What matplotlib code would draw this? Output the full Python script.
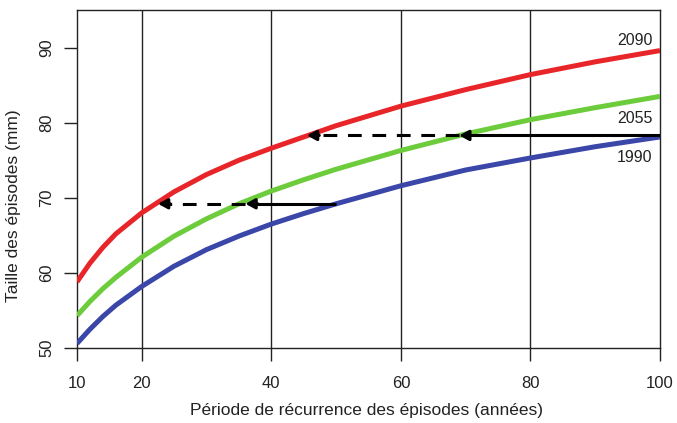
import matplotlib
matplotlib.use("Agg")
import matplotlib.pyplot as plt

plt.rcParams['font.family'] = ['Liberation Sans', 'DejaVu Sans']

# Return period (years)
periods = [10, 12, 14, 16, 20, 25, 30, 35, 40, 45, 50, 60, 70, 80, 90, 100]
# Episode size (mm) for each horizon
size_2090 = [58.8, 61.3, 63.4, 65.2, 68.0, 70.8, 73.1, 75.0, 76.6, 78.1, 79.6, 82.2, 84.4, 86.4, 88.1, 89.6]
size_2055 = [54.3, 56.2, 57.9, 59.4, 62.1, 64.9, 67.2, 69.2, 70.9, 72.4, 73.8, 76.3, 78.5, 80.4, 82.0, 83.5]
size_1990 = [50.6, 52.5, 54.2, 55.7, 58.2, 60.9, 63.1, 64.9, 66.5, 67.9, 69.2, 71.6, 73.7, 75.3, 76.8, 78.1]

series_labels = ["2090", "2055", "1990"]
label_y = [90.9, 80.5, 75.3]
colors = ["#e8262a", "#6ccc3c", "#3a46a8"]

x_ticks = [10, 20, 40, 60, 80, 100]
y_ticks = [50, 60, 70, 80, 90]
grid_x = [20, 40, 60, 80]

# Arrows: (start_x, end_x, y, style)
arrow_segments = [
    (50.0, 36.0, 69.2, "solid"),
    (36.0, 22.5, 69.2, "dashed"),
    (100.0, 69.0, 78.3, "solid"),
    (69.0, 45.5, 78.3, "dashed"),
]

fig = plt.figure(figsize=(6.77, 4.23), dpi=100)
ax = fig.add_axes([77/677, 1 - 348/423, (660-77)/677, (348-10)/423])

for xv in grid_x:
    ax.axvline(xv, color="#222222", lw=1.0, zorder=1)

for ys, c in zip([size_2090, size_2055, size_1990], colors):
    ax.plot(periods, ys, color=c, lw=3.6, solid_capstyle="butt",
            solid_joinstyle="round", zorder=3)

for x0, x1, yv, st in arrow_segments:
    head_len = 1.9
    ax.plot([x0, x1 + head_len * 0.6], [yv, yv], color="black", lw=2.2,
            linestyle=(0, (4.5, 3.5)) if st == "dashed" else "-",
            solid_capstyle="butt", dash_capstyle="butt", zorder=4)
    ax.annotate("", xy=(x1, yv), xytext=(x1 + head_len, yv),
                arrowprops=dict(arrowstyle="-|>,head_length=0.55,head_width=0.3",
                                color="black", lw=2.2, shrinkA=0, shrinkB=0),
                zorder=5)

for lab, yv in zip(series_labels, label_y):
    ax.text(98.8, yv, lab, ha="right", va="center", fontsize=11.5, color="#222222")

ax.set_xlim(10, 100)
ax.set_ylim(50, 95)
ax.set_xticks(x_ticks)
ax.set_xticklabels([str(v) for v in x_ticks])
ax.set_yticks(y_ticks)
ax.set_yticklabels([str(v) for v in y_ticks], rotation=90, va="center")

for s in ax.spines.values():
    s.set_color("#222222")
    s.set_linewidth(1.0)

ax.tick_params(axis="x", direction="out", length=9.5, width=1.0, pad=11, labelsize=12, colors="#222222")
ax.tick_params(axis="y", direction="out", length=9.5, width=1.0, pad=7, labelsize=12, colors="#222222")

fig.text(367/677, 1 - 410/423, "Période de récurrence des épisodes (années)",
         ha="center", va="center", fontsize=12.5, color="#222222")
fig.text(14/677, 1 - 206/423, "Taille des épisodes (mm)", rotation=90,
         ha="center", va="center", fontsize=12.5, color="#222222")

fig.savefig("out.png", dpi=100)
